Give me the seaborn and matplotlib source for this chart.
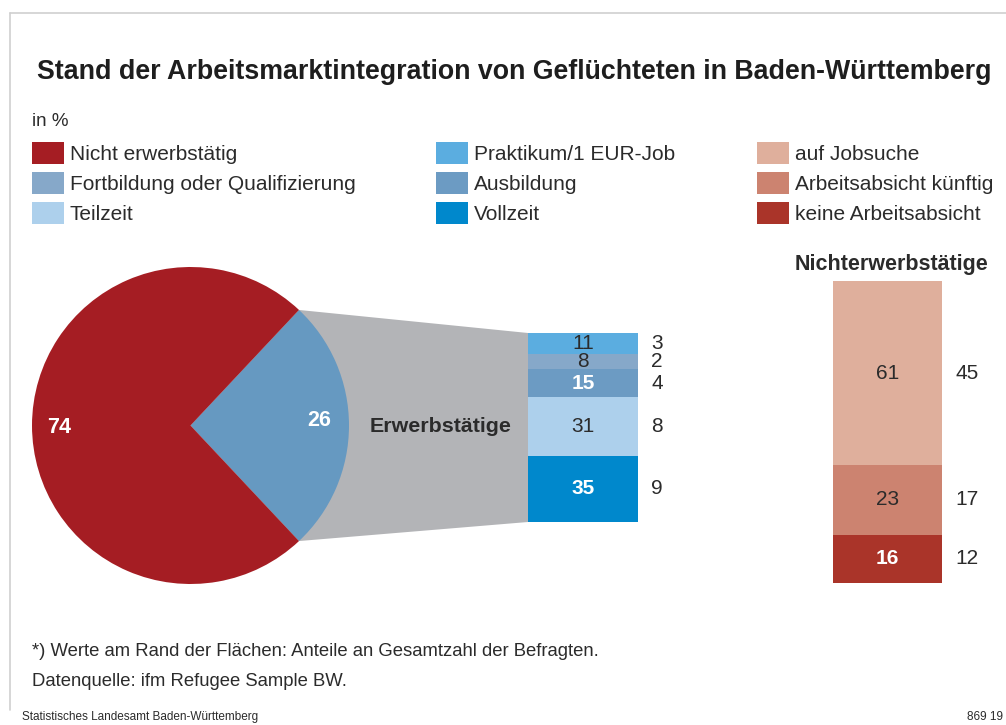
import numpy as np
import matplotlib.pyplot as plt
from matplotlib.patches import Polygon, Rectangle
from matplotlib.lines import Line2D
import seaborn as sns
import pandas as pd

# data
pie_labels = ['Erwerbstätige', 'Nicht erwerbstätig']
pie_values = [26, 74]

erw_cats = ['Vollzeit', 'Teilzeit', 'Ausbildung', 'Fortbildung oder Qualifizierung', 'Praktikum/1 EUR-Job']
erw_values = [35, 31, 15, 8, 11]
erw_total = [9, 8, 4, 2, 3]

nicht_cats = ['keine Arbeitsabsicht', 'Arbeitsabsicht künftig', 'auf Jobsuche']
nicht_values = [16, 23, 61]
nicht_total = [12, 17, 45]

legend_cols = [['Nicht erwerbstätig', 'Fortbildung oder Qualifizierung', 'Teilzeit'],
               ['Praktikum/1 EUR-Job', 'Ausbildung', 'Vollzeit'],
               ['auf Jobsuche', 'Arbeitsabsicht künftig', 'keine Arbeitsabsicht']]

pal = {'Nicht erwerbstätig': '#a51d23', 'Erwerbstätige': '#6699c1',
       'Vollzeit': '#0088cc', 'Teilzeit': '#add0ec', 'Ausbildung': '#6c9bc3',
       'Fortbildung oder Qualifizierung': '#86a8c9', 'Praktikum/1 EUR-Job': '#5badE0',
       'auf Jobsuche': '#dfaf9c', 'Arbeitsabsicht künftig': '#cc8370', 'keine Arbeitsabsicht': '#aa3429'}
white_bold = {'Vollzeit', 'Ausbildung', 'keine Arbeitsabsicht'}

sns.set_theme(style='white')
plt.rcParams['font.family'] = ['Liberation Sans', 'DejaVu Sans']
TXT = '#2b2b2b'

W, H = 1006, 725
fig = plt.figure(figsize=(W / 100, H / 100), dpi=100)

def px(x, y, w, h):
    # pixel box (top-left origin) -> figure fraction
    return [x / W, (H - y - h) / H, w / W, h / H]

# background axes in pixel coords
bg = fig.add_axes([0, 0, 1, 1])
bg.set_xlim(0, W); bg.set_ylim(H, 0); bg.axis('off')
bg.add_line(Line2D([10, W], [13, 13], color='#cfcfcf', lw=1.2))
bg.add_line(Line2D([10, 10], [13, 710], color='#cfcfcf', lw=1.2))

# pie
cx, cy, r = 190.5, 425.5, 158.5
ax_p = fig.add_axes(px(cx - r, cy - r, 2 * r, 2 * r))
half = pie_values[0] / 100 * 180
ax_p.pie(pie_values, colors=[pal[l] for l in pie_labels], startangle=-half,
         radius=1, wedgeprops=dict(linewidth=0))
ax_p.set_xlim(-1, 1); ax_p.set_ylim(-1, 1); ax_p.axis('off')
ax_p.text(0.81, 0.03, str(pie_values[0]), color='white', fontsize=15.5, fontweight='bold', ha='center', va='center')
ax_p.text(-0.83, -0.01, str(pie_values[1]), color='white', fontsize=15.5, fontweight='bold', ha='center', va='center')

# stacked bars
def stacked(box, cats, vals, totals, lab_x):
    ax = fig.add_axes(px(*box))
    cum = np.cumsum(vals)
    df = pd.DataFrame({'g': ['a'] * len(cats), 'cat': cats, 'top': cum})
    for i in range(len(cats) - 1, -1, -1):
        sns.barplot(data=df.iloc[[i]], x='g', y='top', color=pal[cats[i]], width=1,
                    saturation=1, errorbar=None, linewidth=0, ax=ax)
    ax.set_xlim(-0.5, 0.5); ax.set_ylim(0, 100); ax.axis('off')
    tr = ax.get_yaxis_transform()
    for c, v, t, top in zip(cats, vals, totals, cum):
        mid = top - v / 2
        wb = c in white_bold
        ax.text(0.5, mid, str(v), transform=tr, ha='center', va='center', fontsize=15,
                color='white' if wb else TXT, fontweight='bold' if wb else 'normal')
        ax.text(lab_x, mid, str(t), transform=tr, ha='center', va='center', fontsize=15, color=TXT)
    return ax

e_box = (528, 333, 110, 189)
stacked(e_box, erw_cats, erw_values, erw_total, 1.175)
stacked((833, 281, 109, 302), nicht_cats, nicht_values, nicht_total, 1.23)

# grey connector from pie wedge to bar
a = np.deg2rad(half)
p1 = (cx + r * np.cos(a), cy - r * np.sin(a))
p2 = (cx + r * np.cos(a), cy + r * np.sin(a))
bx, by, bw, bh = e_box
bg.add_patch(Polygon([(cx, cy), p1, (bx, by), (bx, by + bh), p2], closed=True,
                     facecolor='#b3b4b7', edgecolor='none', zorder=0))
bg.text(441, 426, 'Erwerbstätige', fontsize=15.4, fontweight='bold', color=TXT, ha='center', va='center')
bg.text(892, 264, 'Nichterwerbstätige', fontsize=15.5, fontweight='bold', color=TXT, ha='center', va='center')

# title and legend
bg.text(37, 72, 'Stand der Arbeitsmarktintegration von Geflüchteten in Baden-Württemberg',
        fontsize=19.3, fontweight='bold', color='#1e1e1e', ha='left', va='center')
bg.text(32, 121, 'in %', fontsize=13.5, color=TXT, ha='left', va='center')
for xs, col in zip([32, 436, 757], legend_cols):
    for j, lab in enumerate(col):
        yy = 153 + 30 * j
        bg.add_patch(Rectangle((xs, yy - 11), 32, 22, facecolor=pal[lab], edgecolor='none'))
        bg.text(xs + 38, yy + 1, lab, fontsize=15, color=TXT, ha='left', va='center')

# notes
bg.text(32, 651, '*) Werte am Rand der Flächen: Anteile an Gesamtzahl der Befragten.', fontsize=13.3, color=TXT, va='center')
bg.text(32, 681, 'Datenquelle: ifm Refugee Sample BW.', fontsize=13.3, color=TXT, va='center')
bg.text(22, 717, 'Statistisches Landesamt Baden-Württemberg', fontsize=8.5, color=TXT, va='center')
bg.text(1003, 717, '869 19', fontsize=8.5, color=TXT, va='center', ha='right')

fig.savefig('out.png', dpi=100)
